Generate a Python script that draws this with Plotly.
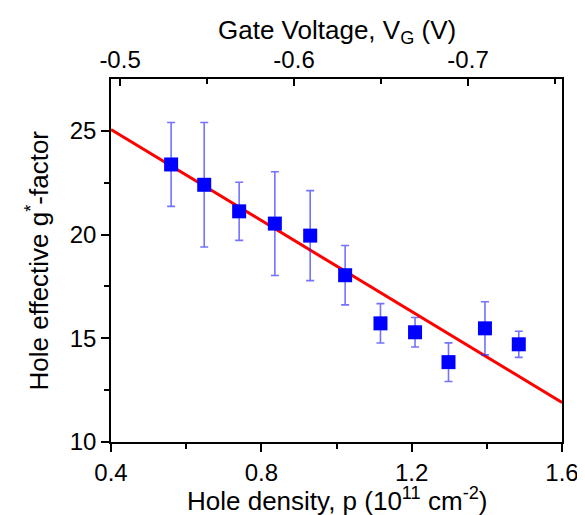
import plotly.graph_objects as go

# hole density (1e11 cm^-2) and measured g* with error bars
density = [0.560, 0.648, 0.741, 0.836, 0.930, 1.023, 1.117, 1.209, 1.298, 1.395, 1.485]
g_factor = [23.38, 22.40, 21.12, 20.53, 19.95, 18.04, 15.72, 15.29, 13.85, 15.48, 14.71]
g_err = [2.02, 3.0, 1.4, 2.5, 2.17, 1.43, 0.95, 0.71, 0.93, 1.28, 0.63]

# linear fit drawn across the full density range
fit_x = [0.4, 1.6]
fit_y = [25.06, 11.91]

gate_ticks = [-0.5, -0.6, -0.7]
gate_labels = ['-0.5', '-0.6', '-0.7']

font = "Liberation Sans, Arial, sans-serif"
tick_font = dict(family=font, size=24, color='black')
title_font = dict(family=font, size=26, color='black')

fig = go.Figure()
fig.add_trace(go.Scatter(x=fit_x, y=fit_y, mode='lines',
                         line=dict(color='#ff0000', width=3), showlegend=False))
fig.add_trace(go.Scatter(x=density, y=g_factor, mode='markers',
                         marker=dict(symbol='square', size=14, color='#0000ff'),
                         error_y=dict(type='data', array=g_err, color='rgba(40,40,255,0.65)',
                                      thickness=1.6, width=4),
                         showlegend=False))
# invisible helper so the top gate-voltage axis gets drawn
fig.add_trace(go.Scatter(x=gate_ticks, y=[10] * len(gate_ticks), xaxis='x2', mode='markers',
                         marker=dict(opacity=0), hoverinfo='skip', showlegend=False))

fig.update_layout(
    width=585, height=515,
    margin=dict(l=103, r=31, t=71, b=81),
    plot_bgcolor='white', paper_bgcolor='white',
    font=dict(family=font, size=22, color='black'),
    xaxis=dict(range=[0.4, 1.6], tickvals=[0.4, 0.8, 1.2, 1.6], ticktext=['0.4', '0.8', '1.2', '1.6'],
               tickfont=tick_font, automargin=False,
               showgrid=False, zeroline=False, showline=True, linecolor='black', linewidth=1.5,
               ticks='outside', ticklen=8, tickwidth=1.5, tickcolor='black',
               minor=dict(tickvals=[0.6, 1.0, 1.4], ticks='outside', ticklen=5, tickwidth=1.5, tickcolor='black')),
    xaxis2=dict(overlaying='x', side='top', anchor='y', range=[-0.4948, -0.754],
                tickvals=gate_ticks, ticktext=gate_labels, tickfont=tick_font, automargin=False,
                showgrid=False, zeroline=False, showline=True, linecolor='black', linewidth=1.5,
                ticks='inside', ticklen=7, tickwidth=1.5, tickcolor='black',
                minor=dict(tickvals=[-0.55, -0.65, -0.75], ticks='inside', ticklen=5, tickwidth=1.5, tickcolor='black')),
    yaxis=dict(range=[10, 27.5], tickvals=[10, 15, 20, 25], tickfont=tick_font, automargin=False,
               showgrid=False, zeroline=False, showline=True, mirror=True, linecolor='black', linewidth=1.5,
               ticks='outside', ticklen=8, tickwidth=1.5, tickcolor='black',
               minor=dict(tickvals=[12.5, 17.5, 22.5], ticks='outside', ticklen=5, tickwidth=1.5, tickcolor='black')),
    annotations=[
        dict(text='Hole density, p (10<sup>11</sup> cm<sup>-2</sup>)', xref='paper', yref='paper',
             x=0.5, y=0, xanchor='center', yanchor='middle', yshift=-57, showarrow=False, font=title_font),
        dict(text='Gate Voltage, V<sub>G</sub> (V)', xref='paper', yref='paper',
             x=0.5, y=1, xanchor='center', yanchor='middle', yshift=48, showarrow=False, font=title_font),
        dict(text='Hole effective g<sup>*</sup>-factor', xref='paper', yref='paper', textangle=-90,
             x=0, y=0.5, xanchor='center', yanchor='middle', xshift=-73, showarrow=False, font=title_font),
    ],
)

fig.write_html("out.html")
